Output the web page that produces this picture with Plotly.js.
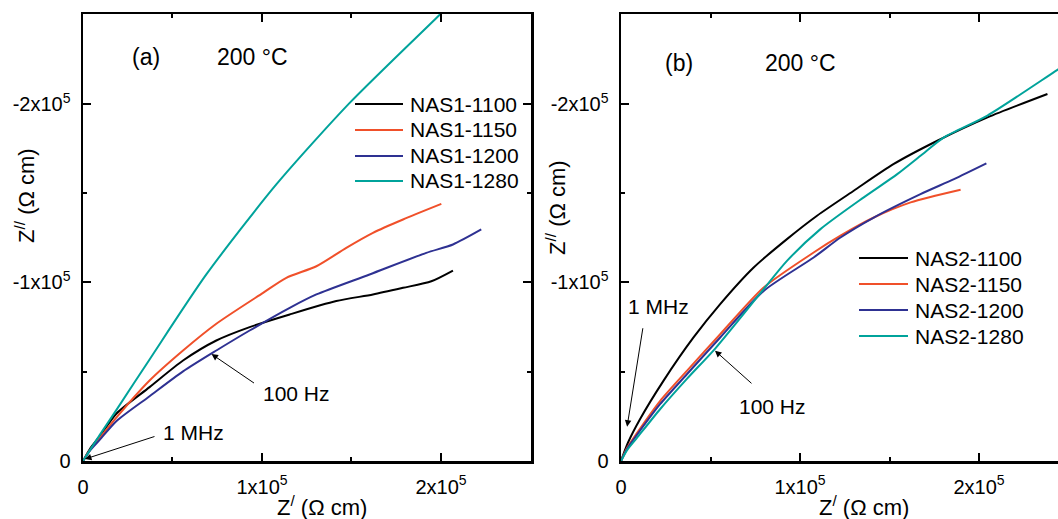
<!DOCTYPE html>
<html>
<head>
<meta charset="utf-8">
<script src="https://cdn.plot.ly/plotly-3.0.1.min.js"></script>
<style>html,body{margin:0;padding:0;background:#fff;}#chart{width:1058px;height:519px;}</style>
</head>
<body>
<div id="chart"></div>
<script>
// ---- Data (Ω cm) ----
// Panel (a)
const seriesA = ["NAS1-1100", "NAS1-1150", "NAS1-1200", "NAS1-1280"];
const a1100_x = [0, 4000, 9300, 18600, 37200, 55900, 74500, 93100, 115500, 141500, 162000, 178800, 194600, 206700];
const a1100_y = [0, -7000, -13800, -26500, -41400, -56300, -67500, -75000, -82100, -89600, -93300, -97000, -100700, -106700];
const a1150_x = [0, 4000, 9300, 18600, 37200, 55900, 74500, 100600, 113600, 130400, 147100, 162000, 178800, 200200];
const a1150_y = [0, -6200, -12800, -24300, -45100, -61900, -76900, -94200, -102600, -109100, -119400, -127800, -135300, -144000];
const a1200_x = [0, 4000, 9300, 18600, 37200, 55900, 74500, 93100, 115500, 130400, 160100, 191800, 206700, 222500];
const a1200_y = [0, -6000, -11800, -22300, -36300, -50200, -61900, -73100, -85800, -93300, -104500, -116600, -121300, -129700];
const a1280_x = [0, 9300, 18600, 37200, 68900, 108000, 149000, 199300, 204800];
const a1280_y = [0, -14500, -28500, -56900, -104500, -154900, -200600, -250000, -255600];

// Panel (b)
const seriesB = ["NAS2-1100", "NAS2-1150", "NAS2-1200", "NAS2-1280"];
const b1100_x = [0, 4000, 10600, 23700, 40500, 55400, 74100, 92700, 109500, 130000, 152400, 176700, 204700, 238200];
const b1100_y = [0, -10500, -23400, -44900, -69200, -87900, -108400, -124300, -137400, -151400, -166400, -179400, -192500, -205600];
const b1150_x = [0, 3500, 8800, 21800, 36800, 55400, 79700, 107600, 122600, 141200, 161800, 189700];
const b1150_y = [0, -7500, -15500, -33600, -50500, -71000, -97200, -116800, -126200, -136400, -144900, -152000];
const b1200_x = [0, 3500, 8800, 21800, 36800, 55400, 79700, 107600, 122600, 141200, 167300, 186000, 204100];
const b1200_y = [0, -7000, -14500, -31800, -48600, -69200, -95300, -114000, -125200, -136400, -149500, -157900, -166700];
const b1280_x = [0, 3500, 8800, 21800, 36800, 52600, 79700, 92700, 111400, 135600, 154300, 167300, 180400, 204700, 243800, 250000];
const b1280_y = [0, -6200, -12800, -29000, -46000, -63000, -96300, -112100, -129900, -147700, -160700, -171000, -181300, -193500, -219100, -223000];

// Ticks
const xTickVals = [0, 100000, 200000];
const xTickText = ["0", "1x10<sup>5</sup>", "2x10<sup>5</sup>"];
const yTickVals = [0, -100000, -200000];
const yTickText = ["0", "-1x10<sup>5</sup>", "-2x10<sup>5</sup>"];

// Frequency markers (arrow heads, data coords)
const markA100Hz = [71800, -59900];
const markA1MHz = [1100, -1100];
const markB1MHz = [3400, -19200];
const markB100Hz = [52500, -61800];

// ---- Styling ----
const colors = ["#000000", "#f0502a", "#2e3192", "#00a39b"];
const FONT = "'Liberation Sans', Arial, sans-serif";

function tr(x, y, name, i, xa, ya) {
  return {x: x, y: y, name: name, type: "scatter", mode: "lines", showlegend: false,
    line: {color: colors[i], width: 2, shape: "spline", smoothing: 0.7}, xaxis: xa, yaxis: ya};
}

const data = [
  tr(a1100_x, a1100_y, seriesA[0], 0, "x", "y"),
  tr(a1150_x, a1150_y, seriesA[1], 1, "x", "y"),
  tr(a1200_x, a1200_y, seriesA[2], 2, "x", "y"),
  tr(a1280_x, a1280_y, seriesA[3], 3, "x", "y"),
  tr(b1100_x, b1100_y, seriesB[0], 0, "x2", "y2"),
  tr(b1150_x, b1150_y, seriesB[1], 1, "x2", "y2"),
  tr(b1200_x, b1200_y, seriesB[2], 2, "x2", "y2"),
  tr(b1280_x, b1280_y, seriesB[3], 3, "x2", "y2")
];

const W = 1058, H = 519;
const px = v => v / W, py = v => (H - v) / H;

function xAxis(domain, range, anchor, mirror) {
  return {domain: domain, range: range, anchor: anchor, showgrid: false, zeroline: false,
    showline: true, linecolor: "#000", linewidth: 2.5, mirror: mirror,
    ticks: "inside", ticklen: 8, tickwidth: 2, tickcolor: "#000",
    tickmode: "array", tickvals: xTickVals, ticktext: xTickText,
    minor: {ticks: "inside", tickmode: "linear", tick0: 0, dtick: 50000, ticklen: 4, tickwidth: 2, tickcolor: "#000", showgrid: false},
    tickfont: {family: FONT, size: 20, color: "#000"}, ticklabelstandoff: 6, fixedrange: true};
}
function yAxis(domain, anchor, mirror) {
  return {domain: domain, range: [0, -250400], anchor: anchor, showgrid: false, zeroline: false,
    showline: true, linecolor: "#000", linewidth: 2.5, mirror: mirror,
    ticks: "inside", ticklen: 8, tickwidth: 2, tickcolor: "#000",
    tickmode: "array", tickvals: yTickVals, ticktext: yTickText,
    minor: {ticks: "inside", tickmode: "linear", tick0: 0, dtick: 50000, ticklen: 4, tickwidth: 2, tickcolor: "#000", showgrid: false},
    tickfont: {family: FONT, size: 20, color: "#000"}, ticklabelstandoff: 6, fixedrange: true};
}

const yDom = [py(461), py(14)];

function txt(text, x, y, size, extra) {
  return Object.assign({text: text, x: px(x), y: py(y), xref: "paper", yref: "paper",
    showarrow: false, xanchor: "center", yanchor: "middle",
    font: {family: FONT, size: size, color: "#000"}}, extra || {});
}
function arrow(pt, xa, ya, ax, ay) {
  return {text: "", x: pt[0], y: pt[1], xref: xa, yref: ya, showarrow: true,
    ax: ax, ay: ay, arrowhead: 2, arrowsize: 1.3, arrowwidth: 1, arrowcolor: "#000"};
}

// Legends (swatch + label)
const legA = {lineX0: 355, lineX1: 403, textX: 408, rows: [104, 130, 156, 181]};
const legB = {lineX0: 859, lineX1: 908, textX: 913, rows: [258, 284, 310, 336]};
const shapes = [];
const legendAnn = [];
function buildLegend(leg, names) {
  names.forEach((n, i) => {
    shapes.push({type: "line", xref: "paper", yref: "paper",
      x0: px(leg.lineX0), x1: px(leg.lineX1), y0: py(leg.rows[i]), y1: py(leg.rows[i]),
      line: {color: colors[i], width: 2}});
    legendAnn.push(txt(n, leg.textX, leg.rows[i], 21, {xanchor: "left"}));
  });
}
buildLegend(legA, seriesA);
buildLegend(legB, seriesB);

const layout = {
  width: W, height: H,
  margin: {l: 0, r: 0, t: 0, b: 0},
  paper_bgcolor: "#fff", plot_bgcolor: "#fff",
  font: {family: FONT, size: 20, color: "#000"},
  showlegend: false,
  xaxis: xAxis([px(83), px(531)], [0, 250300], "y", "ticks"),
  yaxis: yAxis(yDom, "x", "ticks"),
  xaxis2: xAxis([px(621), 1], [0, 244100], "y2", "ticks"),
  yaxis2: yAxis(yDom, "x2", false),
  shapes: shapes,
  annotations: [
    txt("(a)", 146, 57, 23),
    txt("200 °C", 252, 57, 23),
    txt("(b)", 679, 63, 23),
    txt("200 °C", 800, 63, 23),
    txt("Z<sup>/</sup> (Ω cm)", 322, 506, 22),
    txt("Z<sup>/</sup> (Ω cm)", 864, 506, 22),
    txt("Z<sup>//</sup> (Ω cm)", 25, 196, 22, {textangle: -90}),
    txt("Z<sup>//</sup> (Ω cm)", 556, 208, 22, {textangle: -90}),
    txt("100 Hz", 296, 393, 21),
    txt("1 MHz", 193, 432, 21),
    txt("1 MHz", 658, 306, 21),
    txt("100 Hz", 772, 406, 21),
    arrow(markA100Hz, "x", "y", 44, 30),
    arrow(markA1MHz, "x", "y", 71, -23),
    arrow(markB1MHz, "x2", "y2", 16, -100),
    arrow(markB100Hz, "x2", "y2", 38, 34)
  ].concat(legendAnn)
};

Plotly.newPlot("chart", data, layout, {displayModeBar: false, staticPlot: true});
</script>
</body>
</html>
